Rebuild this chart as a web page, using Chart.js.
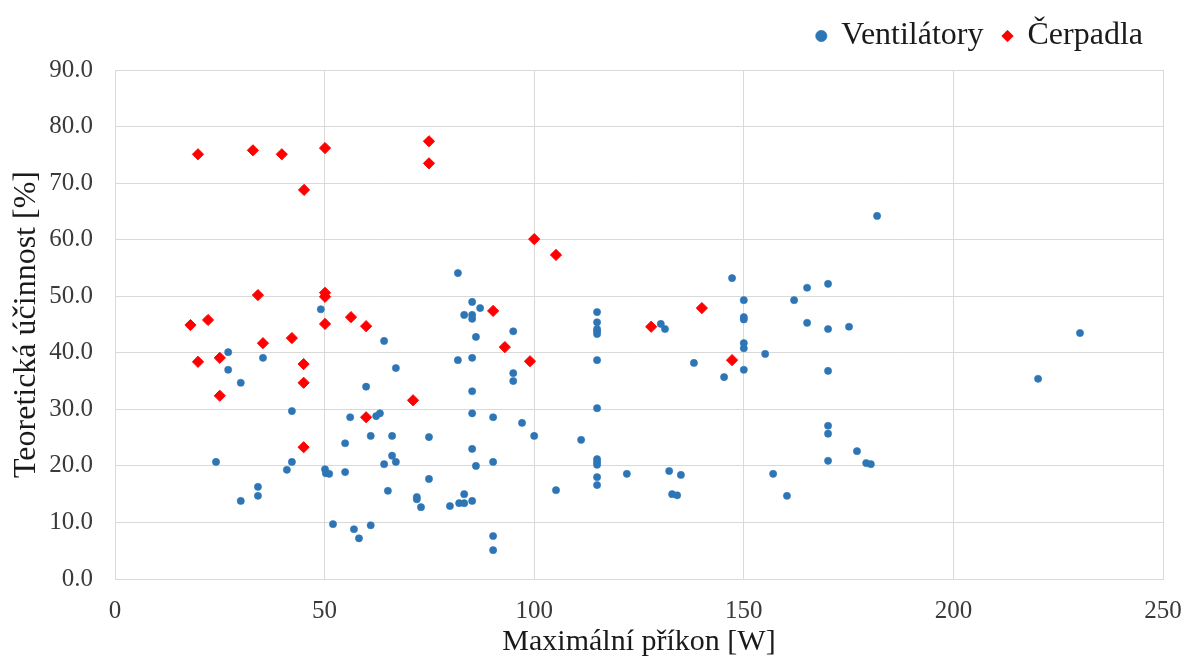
<!DOCTYPE html>
<html>
<head>
<meta charset="utf-8">
<script src="https://cdn.jsdelivr.net/npm/chart.js@4.4.1/dist/chart.umd.min.js"></script>
<style>
  html, body { margin: 0; padding: 0; background: #fff; }
  #wrap { width: 1185px; height: 668px; }
</style>
</head>
<body>
<div id="wrap"><canvas id="scatterChart"></canvas></div>
<script>
// Ventilátory (fans)
const fanPower = [49.1, 27, 35.3, 27, 30, 59.9, 42.2, 56.1, 61, 54.9, 24.1, 42.2, 41, 50.1, 50.3, 51.1, 54.9, 34.1, 34.1, 30,
  52, 57, 58.2, 61, 85.2, 87.1, 83.3, 85.2, 85.2, 95, 115, 115, 115, 115, 115, 64.2, 86.1, 81.8, 85.2, 67,
  95, 95, 115, 85.2, 63.2, 62.3, 85.2, 90.2, 97.1, 115, 66.1, 74.9, 100, 111.2, 85.2, 66.1, 64.2, 67, 86.1, 90.2,
  115, 115, 115, 115, 115, 74.9, 105.2, 65.1, 72, 72, 73, 79.9, 82.1, 83.3, 83.3, 85.2, 90.2, 90.2, 81.8,
  181.8, 147.2, 170.1, 165.1, 150, 162, 150, 150, 130.2, 131.2, 165.1, 170.1, 175.1, 150, 150, 155.1, 138.1, 150, 170.1, 145.3,
  170.1, 170.1, 177, 170.1, 179.2, 180.3, 122.1, 132.2, 135, 157, 132.9, 134.1, 160.3, 230.2, 220.2];
const fanEff = [47.7, 40.1, 39.1, 37.0, 34.7, 34.0, 29.7, 28.6, 25.3, 24.0, 20.7, 20.7, 19.3, 19.4, 18.7, 18.6, 18.9, 16.3, 14.7, 13.8,
  9.7, 8.8, 7.2, 9.5, 49.0, 47.9, 46.7, 46.7, 46.0, 43.8, 47.2, 45.4, 44.2, 43.8, 43.3, 42.1, 42.8, 38.7, 39.1, 37.3,
  36.4, 35.0, 38.7, 33.2, 29.3, 28.8, 29.3, 28.6, 27.6, 30.2, 25.3, 25.1, 25.3, 24.6, 23.0, 21.8, 20.3, 20.7, 20.0, 20.7,
  21.2, 20.7, 20.2, 18.0, 16.6, 17.7, 15.7, 15.6, 14.5, 14.1, 12.7, 12.9, 13.4, 13.4, 15.0, 13.8, 7.6, 5.1, 54.1,
  64.2, 53.2, 52.2, 51.5, 49.3, 49.3, 46.3, 45.9, 45.1, 44.2, 45.3, 44.2, 44.6, 41.7, 40.8, 39.8, 38.2, 37.0, 36.8, 35.7,
  27.1, 25.7, 22.6, 20.9, 20.5, 20.3, 18.6, 19.1, 18.4, 18.6, 15.0, 14.8, 14.7, 43.5, 35.4];

// Čerpadla (pumps)
const pumpPower = [18, 19.8, 22.2, 19.8, 25, 25, 32.9, 34.1, 35.3, 39.8, 42.2, 45.1, 45, 45, 45, 50.1, 50.1, 50.1, 50.1,
  56.3, 59.9, 59.9, 71.1, 74.9, 74.9, 90.2, 93, 99, 100, 105.2, 127.9, 140, 147.2];
const pumpEff = [44.9, 38.4, 45.8, 75.1, 39.1, 32.4, 75.8, 50.2, 41.7, 75.1, 42.6, 68.8, 38.0, 34.7, 23.3, 76.2, 50.6, 49.9, 45.1,
  46.3, 44.7, 28.6, 31.6, 77.4, 73.5, 47.4, 41.0, 38.5, 60.1, 57.3, 44.6, 47.9, 38.7];

const xTicks = [0, 50, 100, 150, 200, 250];
const yTicks = [0, 10, 20, 30, 40, 50, 60, 70, 80, 90];

function toPoints(xs, ys) {
  return xs.map(function (x, i) { return { x: x, y: ys[i] }; });
}

const serif = '"Liberation Serif", "DejaVu Serif", serif';
const titleColor = '#1a1a1a';
const tickColor = '#3a3a3a';
const gridColor = '#d9d9d9';

// leave a little more room between the legend and the plot
const legendGap = {
  id: 'legendGap',
  afterInit: function (chart) {
    const legend = chart.legend;
    if (!legend) return;
    const fit = legend.fit;
    legend.fit = function () {
      fit.call(this);
      this.height += 8;
    };
  }
};

const ctx = document.getElementById('scatterChart').getContext('2d');
new Chart(ctx, {
  type: 'scatter',
  data: {
    datasets: [{
      label: 'Ventilátory',
      data: toPoints(fanPower, fanEff),
      pointStyle: 'circle',
      pointRadius: 3.6,
      pointBorderWidth: 0.6,
      backgroundColor: '#2e75b6',
      borderColor: '#2e75b6'
    }, {
      label: 'Čerpadla',
      data: toPoints(pumpPower, pumpEff),
      pointStyle: 'rectRot',
      pointRadius: 5.6,
      pointBorderWidth: 1,
      backgroundColor: '#ff0000',
      borderColor: '#ff0000'
    }]
  },
  plugins: [legendGap],
  options: {
    responsive: true,
    maintainAspectRatio: false,
    animation: false,
    layout: { padding: { left: 0, right: 22, top: 0, bottom: 0 } },
    plugins: {
      legend: {
        position: 'top',
        align: 'end',
        labels: {
          usePointStyle: true,
          boxWidth: 8,
          boxHeight: 8,
          padding: 20,
          color: titleColor,
          font: { family: serif, size: 32 }
        }
      },
      tooltip: { enabled: false }
    },
    scales: {
      x: {
        type: 'linear',
        min: 0,
        max: 250,
        afterBuildTicks: function (scale) {
          scale.ticks = xTicks.map(function (v) { return { value: v }; });
        },
        afterFit: function (scale) {
          scale.height = 89;
          scale.paddingRight = 20;
        },
        grid: { color: gridColor, lineWidth: 1, drawTicks: false },
        border: { color: gridColor },
        ticks: {
          padding: 17,
          color: tickColor,
          font: { family: serif, size: 25 },
          callback: function (value) { return value; }
        },
        title: {
          display: true,
          text: 'Maximální příkon [W]',
          color: titleColor,
          font: { family: serif, size: 30 },
          padding: { top: 0, bottom: 8 }
        }
      },
      y: {
        type: 'linear',
        min: 0,
        max: 90,
        afterBuildTicks: function (scale) {
          scale.ticks = yTicks.map(function (v) { return { value: v }; });
        },
        afterFit: function (scale) { scale.width = 115; },
        grid: { color: gridColor, lineWidth: 1, drawTicks: false },
        border: { color: gridColor },
        ticks: {
          padding: 22,
          color: tickColor,
          font: { family: serif, size: 25 },
          callback: function (value) { return value.toFixed(1); }
        },
        title: {
          display: true,
          text: 'Teoretická účinnost [%]',
          color: titleColor,
          font: { family: serif, size: 32 },
          padding: { top: 7, bottom: 0 }
        }
      }
    }
  }
});
</script>
</body>
</html>
